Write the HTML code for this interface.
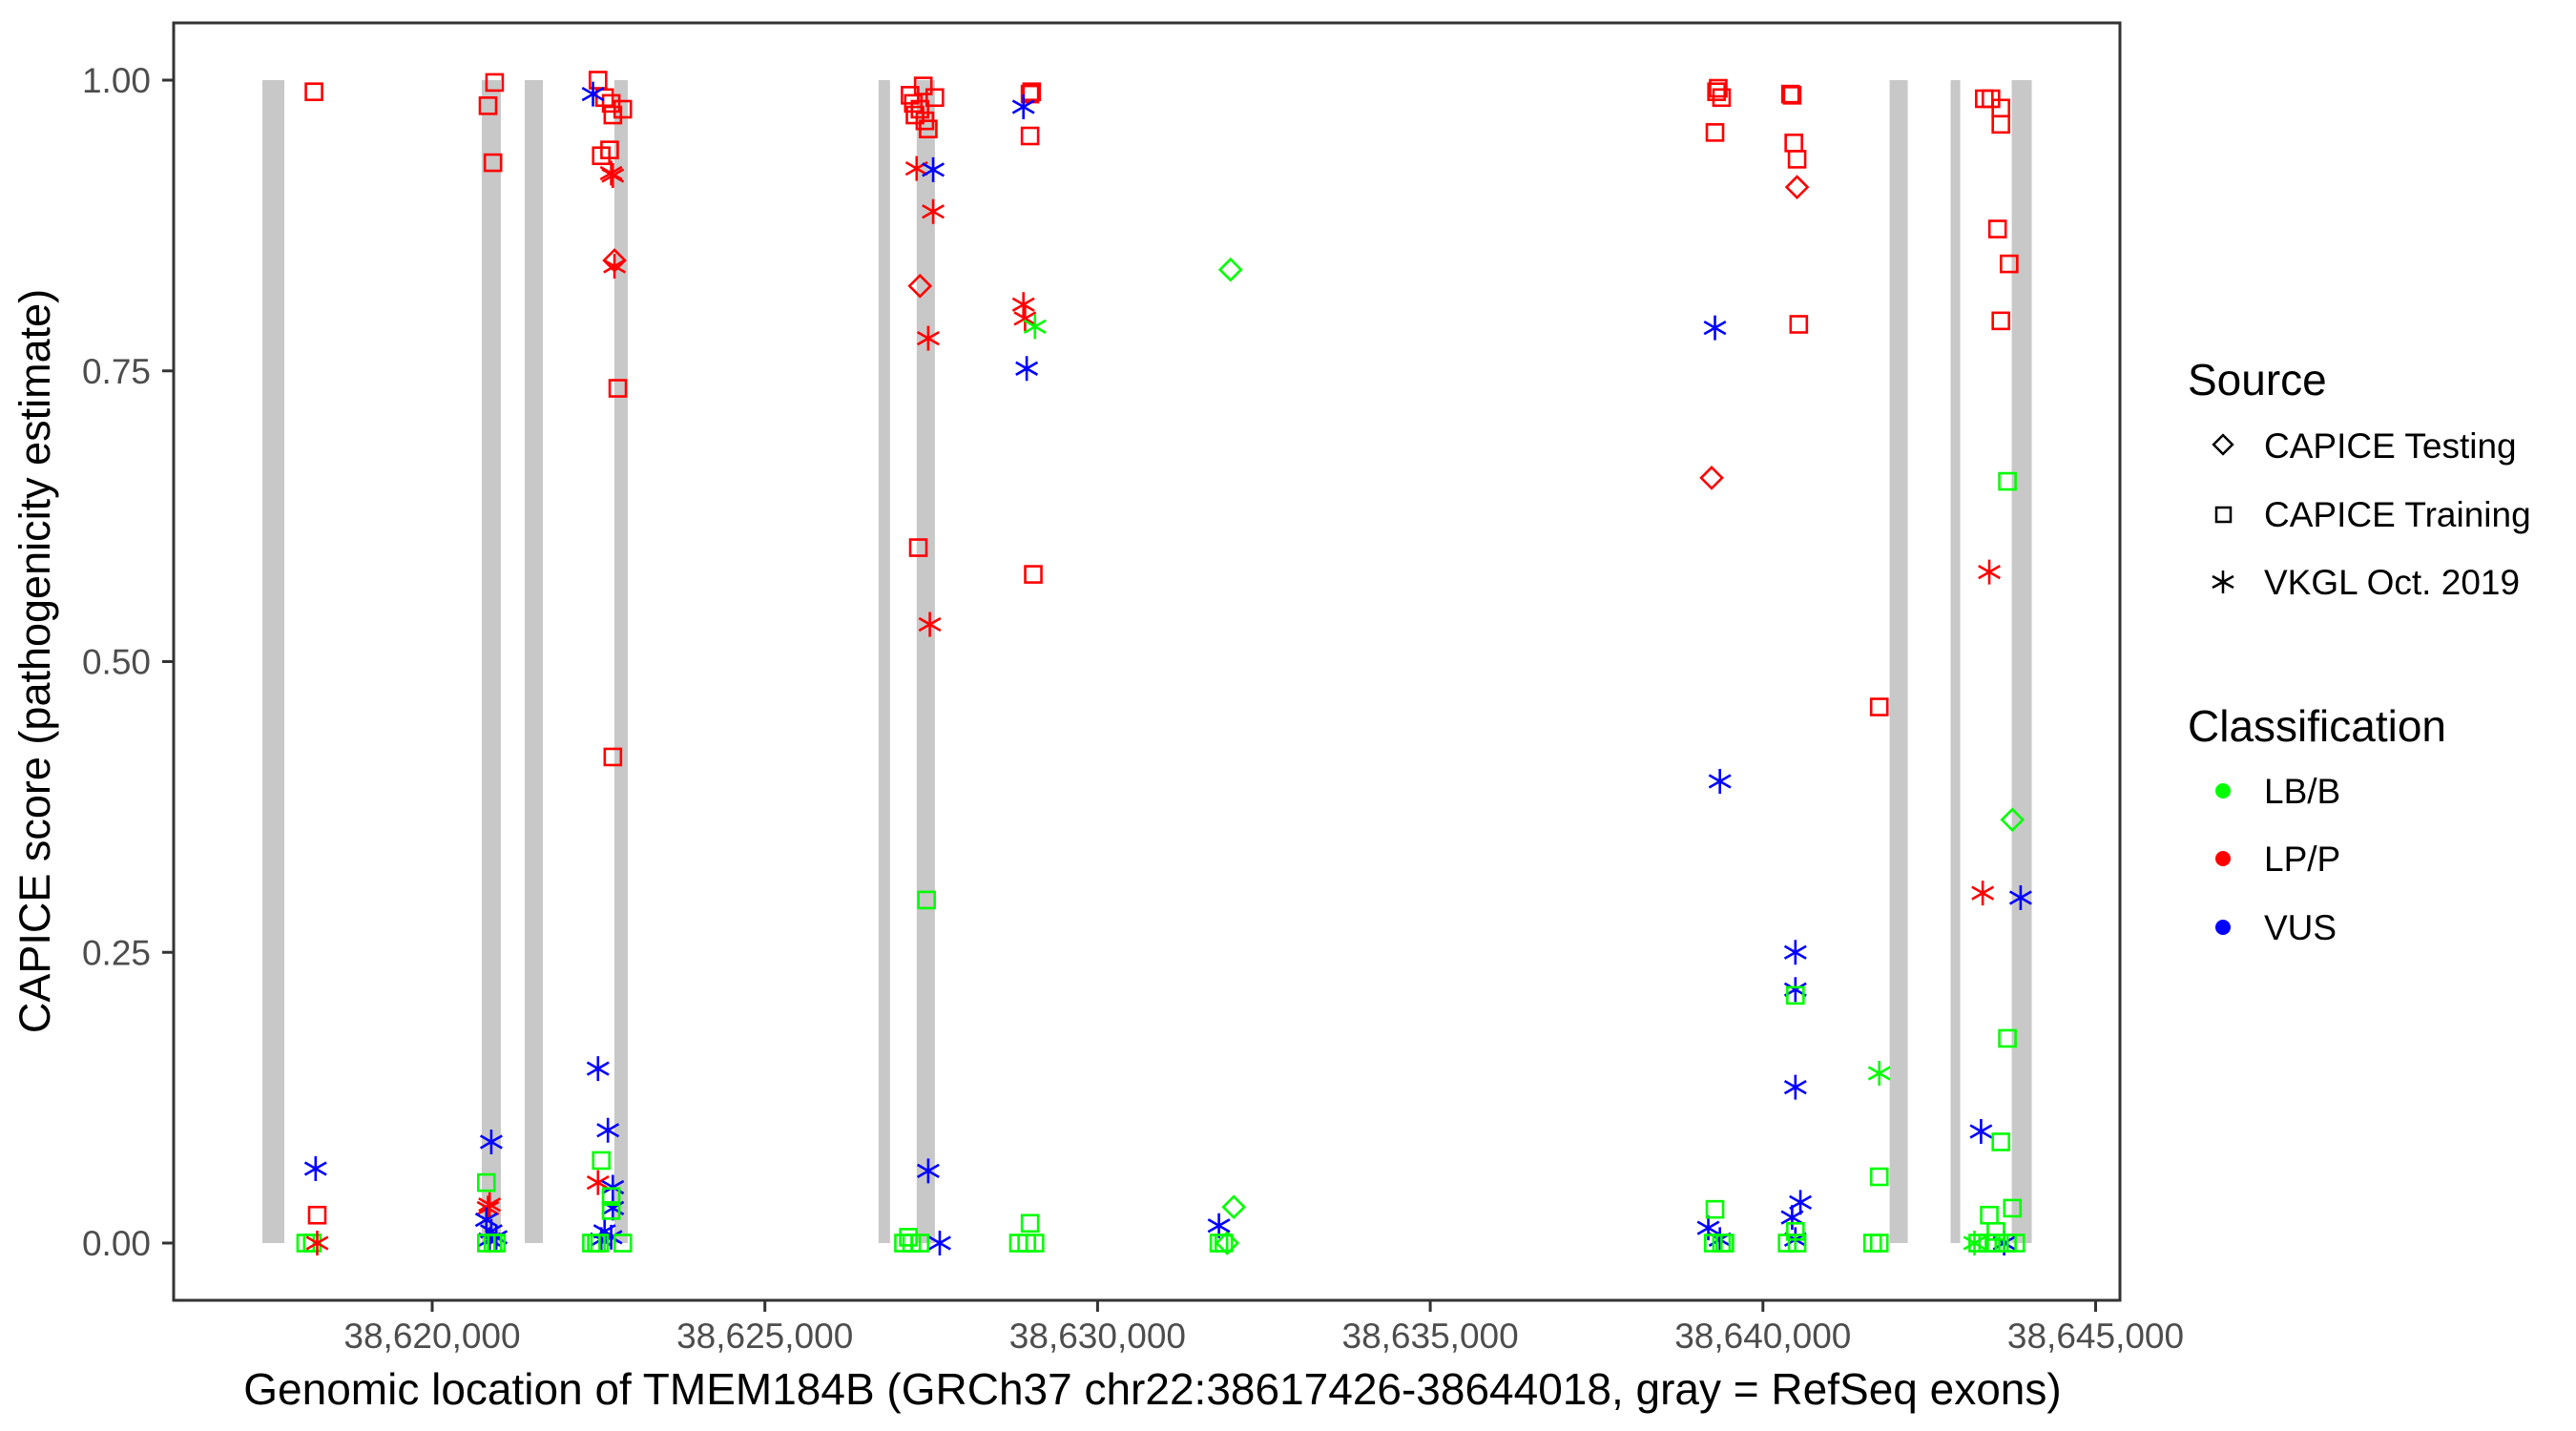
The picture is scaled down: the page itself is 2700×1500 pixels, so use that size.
<!DOCTYPE html>
<html><head><meta charset="utf-8"><style>
html,body{margin:0;padding:0;background:#fff;}
svg{display:block;font-family:"Liberation Sans",Arial,sans-serif;}
</style></head><body>
<svg id="chart" width="2700" height="1500" viewBox="0 0 2700 1500" xmlns="http://www.w3.org/2000/svg">
<rect x="0" y="0" width="2700" height="1500" fill="#fff"/>
<g id="exons"></g>
<g id="points"></g>
<rect x="182" y="24" width="2040" height="1339" fill="none" stroke="#333" stroke-width="3"/>
<g id="yaxis"></g>
<g id="xaxis"></g>
<text x="1208" y="1472" font-size="46" text-anchor="middle" fill="#000">Genomic location of TMEM184B (GRCh37 chr22:38617426-38644018, gray = RefSeq exons)</text>
<text transform="translate(52,693) rotate(-90)" font-size="45" text-anchor="middle" fill="#000">CAPICE score (pathogenicity estimate)</text>
<g>
<text x="2293" y="414" font-size="46" fill="#000">Source</text>
<g>
<rect x="2323" y="459" width="14" height="14" transform="rotate(45 2330 466)" fill="none" stroke="#000" stroke-width="2.5"/>
<text x="2373" y="480" font-size="37" fill="#000">CAPICE Testing</text></g>
<g>
<rect x="2323" y="532" width="15" height="15" fill="none" stroke="#000" stroke-width="2.5"/>
<text x="2373" y="552" font-size="37" fill="#000">CAPICE Training</text></g>
<g>
<path d="M2330 598V622M2319 604L2341 616M2319 616L2341 604" stroke="#000" stroke-width="2.5"/>
<text x="2373" y="623" font-size="37" fill="#000">VKGL Oct. 2019</text></g>
<text x="2293" y="777" font-size="46" fill="#000">Classification</text>
<g><circle cx="2330" cy="829" r="8" fill="#00ff00"/><text x="2373" y="842" font-size="37" fill="#000">LB/B</text></g>
<g><circle cx="2330" cy="900" r="8" fill="#ff0000"/><text x="2373" y="913" font-size="37" fill="#000">LP/P</text></g>
<g><circle cx="2330" cy="972" r="8" fill="#0000ff"/><text x="2373" y="985" font-size="37" fill="#000">VUS</text></g>
</g>
</svg>
<script>
const exonStarts=[38617448,38620745,38621391,38622738,38626709,38627282,38641904,38642821,38643739];
const exonEnds=[38617778,38621032,38621663,38622939,38626881,38627555,38642176,38642965,38644040];
const xTicks=[38620000,38625000,38630000,38635000,38640000,38645000];
const xTickLabels=["38,620,000","38,625,000","38,630,000","38,635,000","38,640,000","38,645,000"];
const yTicks=[0,0.25,0.5,0.75,1];
const yTickLabels=["0.00","0.25","0.50","0.75","1.00"];
const pointPos=[
38618223,38618248,38618272,38618099,38618198,38618272,
38620938,38620839,38620913,38620888,38620814,38620863,38620839,38620814,38620888,38620963,38620863,38620814,38620913,38620963,
38622492,38622591,38622690,38622864,38622715,38622666,38622541,38622790,38622715,38622417,38622690,38622715,38622740,38622492,38622740,38622492,38622641,38622715,38622715,38622591,38622690,38622541,38622541,38622690,38622690,38622393,38622517,38622864,38622467,
38627380,38627182,38627554,38627231,38627331,38627256,38627405,38627455,38627306,38627281,38627529,38627455,38627479,38627331,38627529,38627455,38627628,38627430,38627157,38627083,38627207,38627331,
38629010,38628985,38628985,38629034,38628886,38628935,38628886,38628910,38629059,38628985,38628811,38628935,38629059,
38631998,38632047,38631948,38631824,38631824,38631898,
38639328,38639303,38639378,38639279,38639279,38639353,38639179,38639353,38639229,38639279,38639254,38639378,38639428,
38640414,38640439,38640464,38640513,38640538,38640513,38640488,38640488,38640488,38640563,38640439,38640488,38640488,38640488,38640364,38640513,
38641748,38641748,38641748,38641648,38641748,
38643327,38643427,38643576,38643576,38643526,38643700,38643576,38643402,38643303,38643873,38643278,38643625,38643749,38643675,38643675,38643576,38643749,38643402,38643501,38643228,38643377,38643501,38643675,38643799,38643179
];
const pointScore=[
0.99,0.064,0.024,0,0,0,
0.998,0.978,0.929,0.087,0.052,0.033,0.03,0.02,0.01,0.005,0.003,0,0,0,
1.0,0.985,0.98,0.975,0.97,0.94,0.935,0.735,0.418,0.988,0.92,0.918,0.84,0.052,0.845,0.15,0.097,0.048,0.03,0.01,0.005,0.003,0.071,0.04,0.028,0,0,0,0,
0.995,0.987,0.985,0.98,0.975,0.97,0.965,0.958,0.598,0.924,0.887,0.778,0.532,0.823,0.923,0.062,0,0.295,0.005,0,0,0,
0.99,0.988,0.952,0.575,0.977,0.752,0.807,0.795,0.788,0.017,0,0,0,
0.837,0.031,0,0.015,0,0,
0.993,0.99,0.985,0.955,0.787,0.397,0.013,0.003,0.658,0.029,0,0,0,
0.988,0.987,0.946,0.932,0.79,0.908,0.25,0.218,0.134,0.035,0.022,0.003,0.213,0.01,0,0,
0.461,0.146,0.057,0,0,
0.984,0.984,0.976,0.962,0.872,0.842,0.793,0.577,0.301,0.297,0.096,0,0.364,0.655,0.176,0.087,0.03,0.024,0.01,0,0,0,0,0,0
];
const pointClass=[
"R","B","R","G","G","R",
"R","R","R","B","G","R","R","B","B","B","B","G","G","G",
"R","R","R","R","R","R","R","R","R","B","R","R","R","R","R","B","B","B","B","B","B","B","G","G","G","G","G","G","G",
"R","R","R","R","R","R","R","R","R","R","R","R","R","R","B","B","B","G","G","G","G","G",
"R","R","R","R","B","B","R","R","G","G","G","G","G",
"G","G","G","B","G","G",
"R","R","R","R","B","B","B","B","R","G","G","G","G",
"R","R","R","R","R","R","B","B","B","B","B","B","G","G","G","G",
"R","G","G","G","G",
"R","R","R","R","R","R","R","R","R","B","B","B","G","G","G","G","G","G","G","G","G","G","G","G","G"
];
const pointSource=[
"S","A","S","S","S","A",
"S","S","S","A","S","A","A","A","A","A","A","S","S","S",
"S","S","S","S","S","S","S","S","S","A","A","A","A","A","D","A","A","A","A","A","A","A","S","S","S","S","S","S","S",
"S","S","S","S","S","S","S","S","S","A","A","A","A","D","A","A","A","S","S","S","S","S",
"S","S","S","S","A","A","A","A","A","S","S","S","S",
"D","D","D","A","S","S",
"S","S","S","S","A","A","A","A","D","S","S","S","S",
"S","S","S","S","S","D","A","A","A","A","A","A","S","S","S","S",
"S","A","S","S","S",
"S","S","S","S","S","S","S","A","A","A","A","A","D","S","S","S","S","S","S","S","S","S","S","S","A"
];
const NS="http://www.w3.org/2000/svg";
const X0=38620000, PX0=453, KX=348.7/5000;
function xs(v){return PX0+(v-X0)*KX;}
function ys(v){return 1303-v*1219;}
const colors={G:"#00ff00",R:"#ff0000",B:"#0000ff"};
function mk(tag,attrs,parent){const e=document.createElementNS(NS,tag);for(const k in attrs)e.setAttribute(k,attrs[k]);parent.appendChild(e);return e;}
const gEx=document.getElementById('exons');
for(let i=0;i<exonStarts.length;i++){
  const r=mk('rect',{x:xs(exonStarts[i]),y:ys(1),width:xs(exonEnds[i])-xs(exonStarts[i]),height:ys(0)-ys(1),fill:'#c8c8c8'},gEx);
  
  
}
const gP=document.getElementById('points');
for(let i=0;i<pointPos.length;i++){
  const cx=xs(pointPos[i]), cy=ys(pointScore[i]), c=colors[pointClass[i]], s=pointSource[i];
  let e;
  if(s==="S"){e=mk('rect',{x:cx-8.5,y:cy-8.5,width:17,height:17,fill:'none',stroke:c,'stroke-width':2.6},gP);}
  else if(s==="D"){e=mk('path',{d:`M${cx} ${cy-11}L${cx+11} ${cy}L${cx} ${cy+11}L${cx-11} ${cy}Z`,fill:'none',stroke:c,'stroke-width':2.6},gP);}
  else {e=mk('path',{d:`M${cx} ${cy-13}V${cy+13}M${cx-11.3} ${cy-6.5}L${cx+11.3} ${cy+6.5}M${cx-11.3} ${cy+6.5}L${cx+11.3} ${cy-6.5}`,fill:'none',stroke:c,'stroke-width':2.6},gP);}
  
  
}
const gY=document.getElementById('yaxis');
for(let i=0;i<yTicks.length;i++){
  const y=ys(yTicks[i]);
  const t=mk('line',{x1:170,x2:182,y1:y,y2:y,stroke:'#333','stroke-width':3},gY);
  
  
  const l=mk('text',{x:158,y:y+13,'font-size':37,'text-anchor':'end',fill:'#4d4d4d'},gY);
  l.textContent=yTickLabels[i];
  
  
}
const gX=document.getElementById('xaxis');
for(let i=0;i<xTicks.length;i++){
  const x=xs(xTicks[i]);
  const t=mk('line',{x1:x,x2:x,y1:1363,y2:1375,stroke:'#333','stroke-width':3},gX);
  
  
  const l=mk('text',{x:x,y:1413,'font-size':37,'text-anchor':'middle',fill:'#4d4d4d'},gX);
  l.textContent=xTickLabels[i];
  
  
}
</script>
</body></html>
